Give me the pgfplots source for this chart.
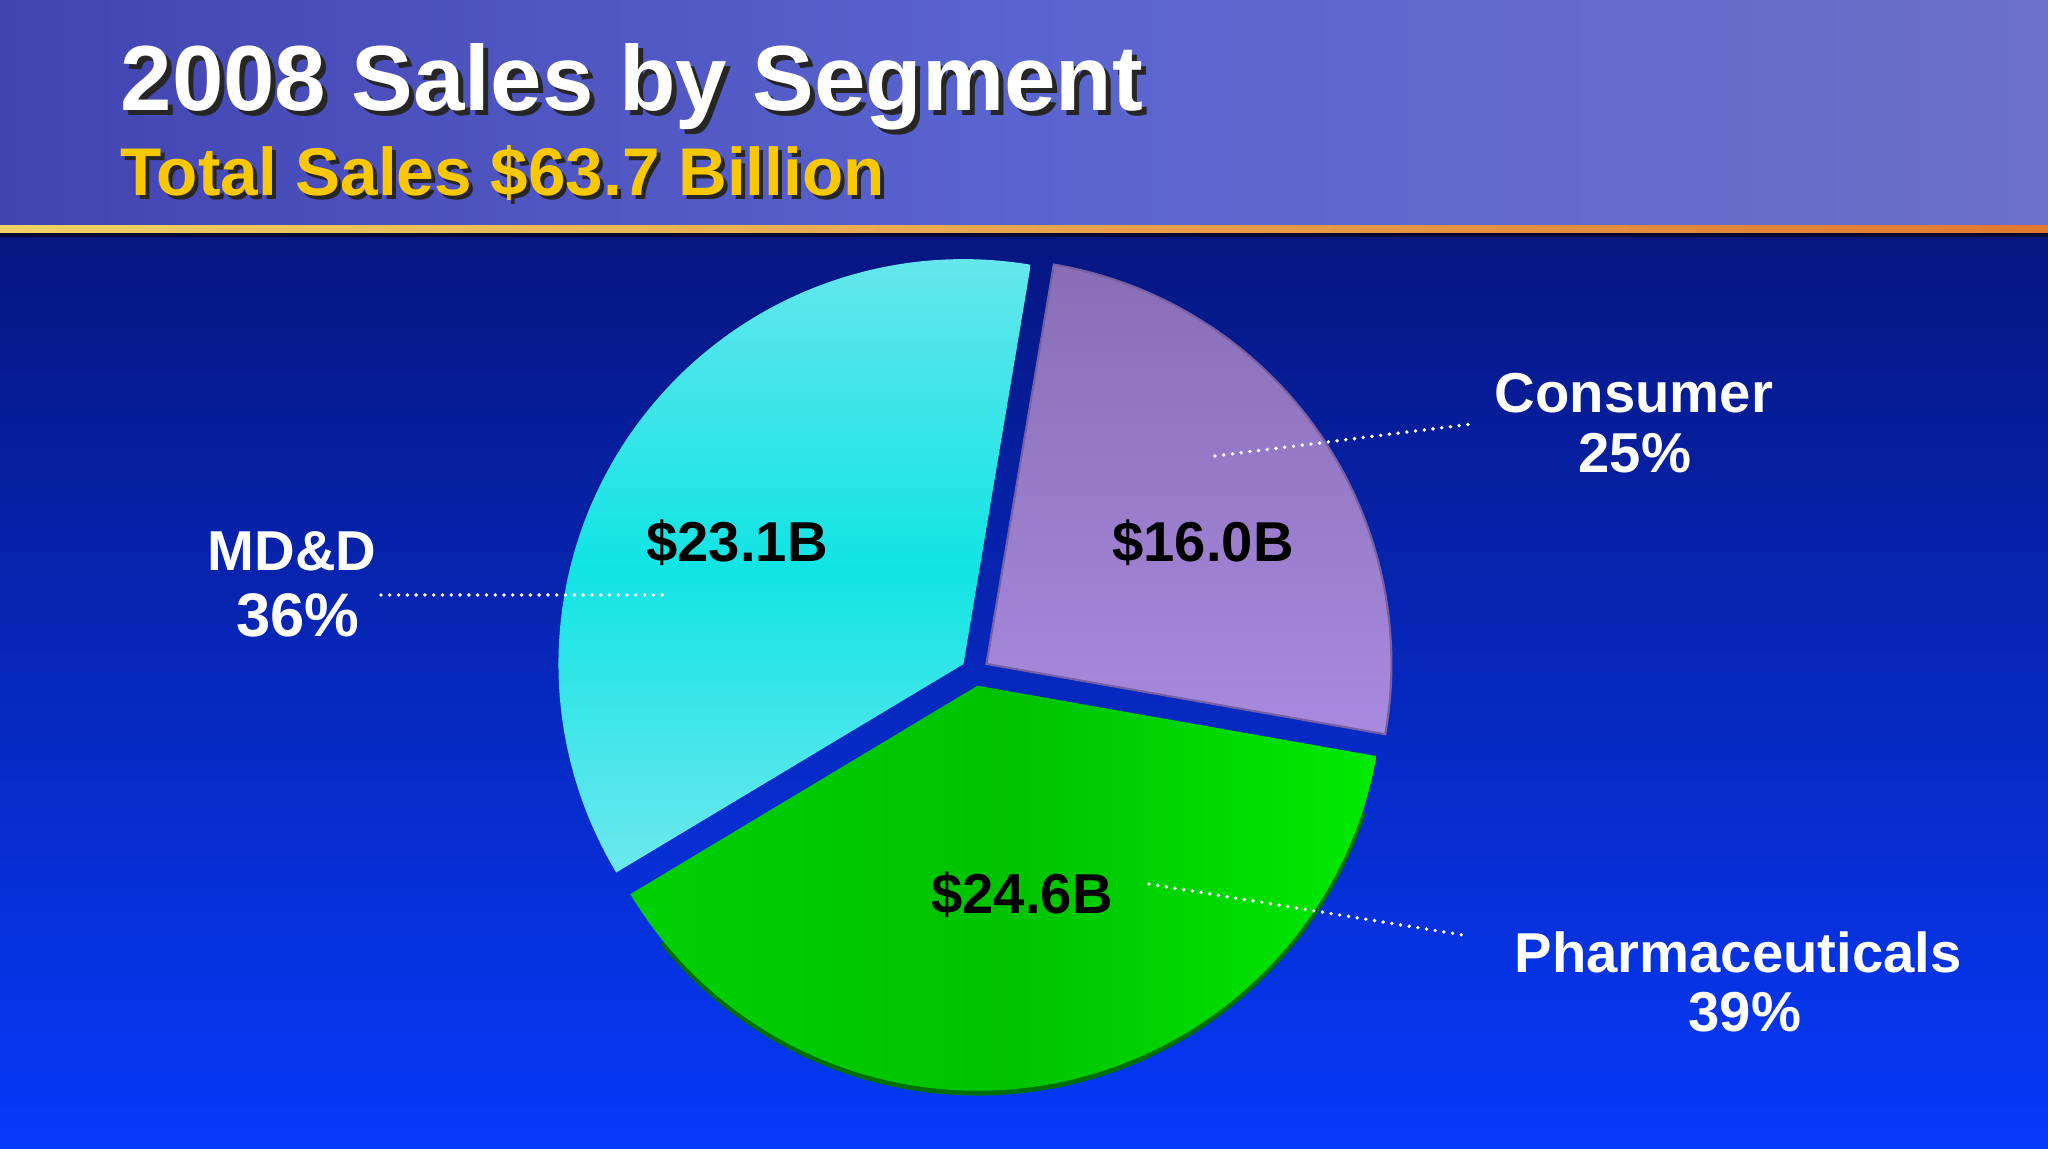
\documentclass[border=0pt]{standalone}
\usepackage{fontspec}
\setmainfont{Liberation Sans}
\usepackage{pgfplots}
\pgfplotsset{compat=1.18}
\usepackage{pgfplotstable}

\definecolor{hdrL}{RGB}{66,68,176}
\definecolor{hdrM}{RGB}{90,100,208}
\definecolor{hdrR}{RGB}{108,112,200}
\definecolor{goldL}{RGB}{240,210,100}
\definecolor{goldR}{RGB}{225,120,50}
\definecolor{bodyT}{RGB}{6,22,128}
\definecolor{bodyB}{RGB}{6,58,250}
\definecolor{subgold}{RGB}{250,200,0}
\definecolor{cyTop}{RGB}{100,230,236}
\definecolor{cyMid}{RGB}{18,228,228}
\definecolor{cyBot}{RGB}{108,232,238}
\definecolor{puTop}{RGB}{136,110,182}
\definecolor{puBot}{RGB}{168,138,222}
\definecolor{puRim}{RGB}{120,96,165}
\definecolor{grL}{RGB}{0,208,0}
\definecolor{grM}{RGB}{0,194,0}
\definecolor{grR}{RGB}{0,234,0}
\definecolor{grRim}{RGB}{0,110,0}

\pgfplotstableread{
segment value
Consumer 16.0
MDD 23.1
Pharma 24.6
}\salesdata

\pgfplotstablegetelem{0}{value}\of\salesdata \pgfmathsetmacro{\vC}{\pgfplotsretval}
\pgfplotstablegetelem{1}{value}\of\salesdata \pgfmathsetmacro{\vM}{\pgfplotsretval}
\pgfplotstablegetelem{2}{value}\of\salesdata \pgfmathsetmacro{\vP}{\pgfplotsretval}
\pgfmathsetmacro{\vT}{\vC+\vM+\vP}
\pgfmathsetmacro{\aO}{-10}
\pgfmathsetmacro{\aA}{\aO+360*\vC/\vT}
\pgfmathsetmacro{\aB}{\aA+360*\vM/\vT}
\pgfmathsetmacro{\aE}{\aO+360}
\pgfmathsetmacro{\cx}{975}
\pgfmathsetmacro{\cy}{477}
\pgfmathsetmacro{\R}{405}
\pgfmathsetmacro{\ex}{14}
\pgfmathsetmacro{\xC}{\cx+\ex*cos((\aO+\aA)/2)}
\pgfmathsetmacro{\yC}{\cy+\ex*sin((\aO+\aA)/2)}
\pgfmathsetmacro{\xM}{\cx+\ex*cos((\aA+\aB)/2)}
\pgfmathsetmacro{\yM}{\cy+\ex*sin((\aA+\aB)/2)}
\pgfmathsetmacro{\xP}{\cx+\ex*cos((\aB+\aE)/2)}
\pgfmathsetmacro{\yP}{\cy+\ex*sin((\aB+\aE)/2)}
\pgfmathsetmacro{\rimS}{\aB+8}
\pgfmathsetmacro{\rimE}{\aE-8}

\newcommand{\titlefont}{\fontsize{26.3}{30}\selectfont\bfseries}
\newcommand{\subfont}{\fontsize{19.2}{22}\selectfont\bfseries}
\newcommand{\labfont}{\fontsize{16}{19}\selectfont\bfseries}

\begin{document}
\begin{tikzpicture}
\useasboundingbox (0,0) rectangle (20.48cm,11.49cm);
% background
\shade[top color=bodyT, bottom color=bodyB] (0,0) rectangle (20.48cm,9.18cm);
\shade[left color=hdrL, right color=hdrR, middle color=hdrM] (0,9.22cm) rectangle (20.48cm,11.49cm);
\fill[black!80!blue] (0,9.12cm) rectangle (20.48cm,9.17cm);
\shade[left color=goldL, right color=goldR] (0,9.16cm) rectangle (20.48cm,9.23cm);

\begin{axis}[at={(0,0)}, anchor=south west, width=20.48cm, height=11.49cm,
  scale only axis, xmin=0, xmax=2048, ymin=0, ymax=1149, hide axis, clip=false]

% MD&D wedge
\addplot[draw=none, top color=cyTop, bottom color=cyBot, middle color=cyMid,
  domain=\aA:\aB, samples=120, variable=\t]
  ({\xM+\R*cos(\t)}, {\yM+\R*sin(\t)}) -- (axis cs:\xM,\yM) -- cycle;
% Consumer wedge
\addplot[draw=puRim, line width=0.6pt, top color=puTop, bottom color=puBot,
  domain=\aO:\aA, samples=100, variable=\t]
  ({\xC+\R*cos(\t)}, {\yC+\R*sin(\t)}) -- (axis cs:\xC,\yC) -- cycle;
% Pharmaceuticals rim
\addplot[draw=grRim, line width=1.6pt, domain=\rimS:\rimE, samples=100, variable=\t]
  ({\xP+\R*cos(\t)}, {\yP-2+\R*sin(\t)});
% Pharmaceuticals wedge
\addplot[draw=none, left color=grL, right color=grR, middle color=grM,
  domain=\aB:\aE, samples=120, variable=\t]
  ({\xP+\R*cos(\t)}, {\yP+\R*sin(\t)}) -- (axis cs:\xP,\yP) -- cycle;

% leader lines
\begin{scope}[white, line width=1.1pt, line cap=round, dash pattern=on 0pt off 2.5pt]
\draw (axis cs:1215,693) -- (axis cs:1472,725);
\draw (axis cs:381,554) -- (axis cs:663,554);
\draw (axis cs:1149,265) -- (axis cs:1469,213);
\end{scope}

% value labels
\node[anchor=base, font=\labfont, text=black] at (axis cs:737,587) {\$23.1B};
\node[anchor=base, font=\labfont, text=black] at (axis cs:1203,587) {\$16.0B};
\node[anchor=base, font=\labfont, text=black] at (axis cs:1022,235) {\$24.6B};

% segment labels
\node[anchor=base, font=\labfont, text=white] at (axis cs:1634,736) {Consumer};
\node[anchor=base, font=\labfont, text=white] at (axis cs:1635,676) {25\%};
\node[anchor=base, font=\labfont, text=white] at (axis cs:292,578) {MD\&D};
\node[anchor=base, font=\fontsize{17.5}{20}\selectfont\bfseries, text=white] at (axis cs:298,512) {36\%};
\node[anchor=base, font=\labfont, text=white] at (axis cs:1738,176) {Pharmaceuticals};
\node[anchor=base, font=\labfont, text=white] at (axis cs:1745,117) {39\%};

% titles with shadow
\node[anchor=base west, inner sep=0pt, font=\titlefont, text=black!85] at (axis cs:125,1033) {2008 Sales by Segment};
\node[anchor=base west, inner sep=0pt, font=\titlefont, text=white] at (axis cs:120,1038) {2008 Sales by Segment};
\node[anchor=base west, inner sep=0pt, font=\subfont, text=black!85] at (axis cs:124,949) {Total Sales \$63.7 Billion};
\node[anchor=base west, inner sep=0pt, font=\subfont, text=subgold] at (axis cs:120,953) {Total Sales \$63.7 Billion};
\end{axis}
\end{tikzpicture}
\end{document}
